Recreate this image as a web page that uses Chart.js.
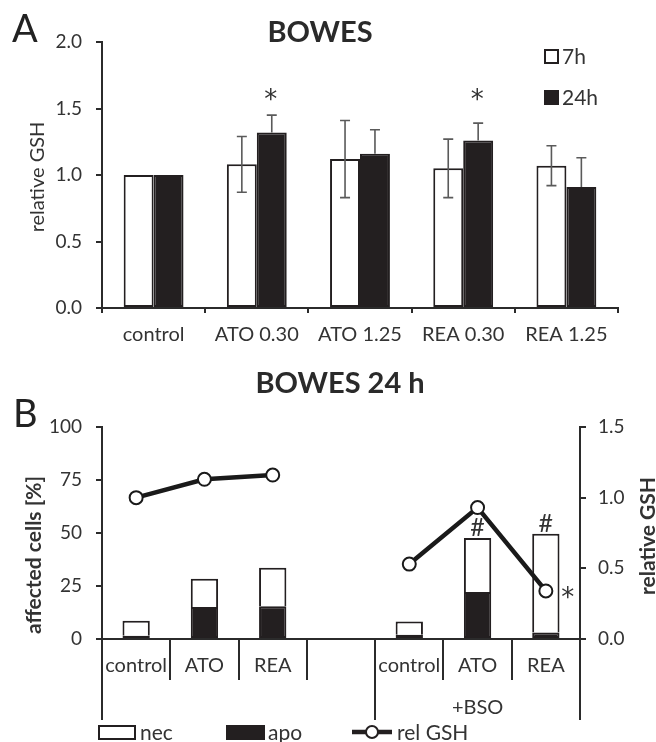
<!DOCTYPE html>
<html>
<head>
<meta charset="utf-8">
<script src="https://cdn.jsdelivr.net/npm/chart.js@4.4.0/dist/chart.umd.min.js"></script>
<style>
  html, body { margin:0; padding:0; background:#fff; }
  #wrap { position:relative; width:656px; height:742px; }
  canvas { position:absolute; left:0; }
  #chartA { top:0; }
  #chartB { top:360px; }
</style>
</head>
<body>
<div id="wrap">
  <canvas id="chartA" width="656" height="370"></canvas>
  <canvas id="chartB" width="656" height="382"></canvas>
</div>
<script>
// ---- data: panel A (relative GSH, 7h vs 24h) ----
const groupsA   = ["control", "ATO 0.30", "ATO 1.25", "REA 0.30", "REA 1.25"];
const gsh7h     = [1.00, 1.08, 1.12, 1.05, 1.07];
const gsh7hErr  = [0, 0.21, 0.29, 0.22, 0.15];
const gsh24h    = [1.00, 1.32, 1.16, 1.26, 0.91];
const gsh24hErr = [0, 0.13, 0.18, 0.13, 0.22];
const starsA    = ["", "*", "", "*", ""];   // marks over the 24h bars

// ---- data: panel B (BOWES 24 h, affected cells + rel GSH) ----
const groupsB  = ["control", "ATO", "REA", "", "control", "ATO", "REA"];
const apoB     = [1.5, 15.1, 15.4, null, 2.0, 22.2, 3.1];
const necB     = [7.1, 13.3, 18.2, null, 6.2, 25.4, 46.6];
const relGshB  = [1.00, 1.13, 1.16, null, 0.53, 0.93, 0.34];
const hashB    = ["", "", "", "", "", "#", "#"];  // over the stacks
const starGshB = ["", "", "", "", "", "", "*"];   // beside the GSH points

const FONT = "Lato, 'Open Sans', sans-serif";
const STAR = "26px 'DejaVu Sans', sans-serif";
const INK = "#231f20";
const TXT = "#333333";
const AX = "#2b2b2b";

function txt(ctx, s, x, y, font, align, color, rot, base) {
  ctx.save();
  ctx.font = font;
  ctx.fillStyle = color || TXT;
  ctx.textAlign = align || "center";
  ctx.textBaseline = base || "middle";
  ctx.translate(x, y);
  if (rot) ctx.rotate(rot);
  ctx.fillText(s, 0, 0);
  ctx.restore();
}
// asterisk centred on (x, y): glyph sits high in the em box
function star(ctx, s, x, y) {
  txt(ctx, s, x, y + 15, STAR, "center", TXT, 0, "alphabetic");
}

// error bars drawn from the dataset's own errors array
const errorBars = {
  id: "errorBars",
  afterDatasetsDraw(chart) {
    const ctx = chart.ctx, y = chart.scales.y;
    chart.data.datasets.forEach((ds, i) => {
      if (!ds.errors) return;
      chart.getDatasetMeta(i).data.forEach((bar, j) => {
        const e = ds.errors[j];
        if (!e) return;
        const v = ds.data[j];
        const top = y.getPixelForValue(v + e);
        const bot = y.getPixelForValue(ds.upperOnly ? v : v - e);
        ctx.save();
        ctx.strokeStyle = "#5a5a5a";
        ctx.lineWidth = 1.6;
        ctx.beginPath();
        ctx.moveTo(bar.x, top); ctx.lineTo(bar.x, bot);
        ctx.moveTo(bar.x - 5, top); ctx.lineTo(bar.x + 5, top);
        if (!ds.upperOnly) { ctx.moveTo(bar.x - 5, bot); ctx.lineTo(bar.x + 5, bot); }
        ctx.stroke();
        ctx.restore();
      });
    });
  }
};

const decorA = {
  id: "decorA",
  afterDraw(chart) {
    const ctx = chart.ctx, y = chart.scales.y;
    txt(ctx, "A", 12, 30, "38px " + FONT, "left", "#222");
    txt(ctx, "BOWES", 320, 33, "bold 29px " + FONT, "center", "#2a2a2a");
    txt(ctx, "relative GSH", 38, 177, "20px " + FONT, "center", TXT, -Math.PI / 2);
    // legend
    const items = chart.data.datasets;
    [57, 98].forEach((cy, k) => {
      const ds = items[k];
      ctx.save();
      ctx.fillStyle = ds.backgroundColor;
      ctx.strokeStyle = INK;
      ctx.lineWidth = 2;
      ctx.fillRect(545, cy - 7, 13, 13);
      ctx.strokeRect(545, cy - 7, 13, 13);
      ctx.restore();
      txt(ctx, ds.label, 562, cy, "21px " + FONT, "left", TXT);
    });
    // significance stars over the 24h bars
    const meta = chart.getDatasetMeta(1);
    starsA.forEach((s, j) => {
      if (!s) return;
      star(ctx, s, meta.data[j].x - 1, y.getPixelForValue(1.62));
    });
  }
};

new Chart(document.getElementById("chartA"), {
  type: "bar",
  data: {
    labels: groupsA,
    datasets: [
      { label: "7h", data: gsh7h, errors: gsh7hErr, backgroundColor: "#ffffff",
        borderColor: INK, borderWidth: 2, borderSkipped: false },
      { label: "24h", data: gsh24h, errors: gsh24hErr, upperOnly: true, backgroundColor: INK,
        borderColor: INK, borderWidth: 2, borderSkipped: false }
    ]
  },
  options: {
    responsive: false,
    animation: false,
    categoryPercentage: 0.58,
    barPercentage: 1.0,
    layout: { padding: { top: 42, right: 38, left: 0, bottom: 0 } },
    plugins: { legend: { display: false }, tooltip: { enabled: false } },
    scales: {
      x: {
        grid: { offset: true, drawOnChartArea: false, tickLength: 5, color: AX, lineWidth: 2 },
        border: { display: true, color: AX, width: 2 },
        ticks: { padding: 10, color: TXT, font: { family: FONT, size: 20 } },
        afterFit(s) { s.height = 62; }
      },
      y: {
        min: 0, max: 2,
        grid: { drawOnChartArea: false, tickLength: 6, color: AX, lineWidth: 2 },
        border: { display: true, color: AX, width: 2 },
        ticks: { stepSize: 0.5, padding: 14, color: TXT, font: { family: FONT, size: 19 },
                 callback: v => v.toFixed(1) },
        afterFit(s) { s.width = 102; }
      }
    }
  },
  plugins: [errorBars, decorA]
});

const decorB = {
  id: "decorB",
  afterDraw(chart) {
    const ctx = chart.ctx, x = chart.scales.x, y = chart.scales.y;
    const ca = chart.chartArea;
    txt(ctx, "B", 13, 55, "38px " + FONT, "left", "#222");
    txt(ctx, "BOWES 24 h", 340, 24, "bold 29px " + FONT, "center", "#2a2a2a");
    txt(ctx, "affected cells [%]", 34, 195, "bold 21px " + FONT, "center", TXT, -Math.PI / 2);
    txt(ctx, "relative GSH", 648, 176, "bold 21px " + FONT, "center", TXT, -Math.PI / 2);
    // long group dividers below the axis
    const step = (ca.right - ca.left) / groupsB.length;
    ctx.save();
    ctx.strokeStyle = AX;
    ctx.lineWidth = 2;
    ctx.beginPath();
    [0, 4, 7].forEach(k => {
      const px = Math.round(ca.left + k * step);
      ctx.moveTo(px, ca.bottom);
      ctx.lineTo(px, ca.bottom + 81);
    });
    ctx.stroke();
    ctx.restore();
    txt(ctx, "+BSO", x.getPixelForValue(5), 348, "20px " + FONT, "center", TXT);
    // marks
    const metaNec = chart.getDatasetMeta(2);
    hashB.forEach((s, j) => {
      if (!s) return;
      const top = y.getPixelForValue(apoB[j] + necB[j]);
      txt(ctx, s, metaNec.data[j].x, top - 10, "25px " + FONT, "center", TXT);
    });
    const metaLine = chart.getDatasetMeta(0);
    starGshB.forEach((s, j) => {
      if (!s) return;
      const p = metaLine.data[j];
      star(ctx, s, p.x + 22, p.y);
    });
    // legend
    const ly = 372;
    ctx.save();
    ctx.lineWidth = 2;
    ctx.strokeStyle = INK;
    ctx.fillStyle = "#fff";
    ctx.fillRect(99, ly - 6, 36, 13); ctx.strokeRect(99, ly - 6, 36, 13);
    ctx.fillStyle = INK;
    ctx.fillRect(226, ly - 7, 39, 15);
    ctx.lineWidth = 4.5;
    ctx.beginPath(); ctx.moveTo(352, ly); ctx.lineTo(392, ly); ctx.stroke();
    ctx.lineWidth = 2;
    ctx.fillStyle = "#fff";
    ctx.beginPath(); ctx.arc(372, ly, 6, 0, Math.PI * 2); ctx.fill(); ctx.stroke();
    ctx.restore();
    const ds = chart.data.datasets;
    txt(ctx, ds[2].label, 140, ly + 1, "21px " + FONT, "left", TXT);
    txt(ctx, ds[1].label, 268, ly + 1, "21px " + FONT, "left", TXT);
    txt(ctx, ds[0].label, 397, ly + 1, "21px " + FONT, "left", TXT);
  }
};

new Chart(document.getElementById("chartB"), {
  type: "bar",
  data: {
    labels: groupsB,
    datasets: [
      { type: "line", label: "rel GSH", data: relGshB, yAxisID: "y2", order: 0,
        borderColor: "#1a1a1a", borderWidth: 4.5, pointRadius: 6.5, pointBorderWidth: 2,
        pointBackgroundColor: "#fff", pointBorderColor: "#1a1a1a", spanGaps: false },
      { label: "apo", data: apoB, order: 1, backgroundColor: INK, borderColor: INK,
        borderWidth: 2, borderSkipped: false },
      { label: "nec", data: necB, order: 1, backgroundColor: "#fff", borderColor: INK,
        borderWidth: 2, borderSkipped: "start" }
    ]
  },
  options: {
    responsive: false,
    animation: false,
    categoryPercentage: 0.4,
    barPercentage: 1.0,
    layout: { padding: { top: 67, right: 0, left: 0, bottom: 0 } },
    plugins: { legend: { display: false }, tooltip: { enabled: false } },
    scales: {
      x: {
        stacked: true,
        grid: { offset: true, drawOnChartArea: false, tickLength: 41, color: AX, lineWidth: 2 },
        border: { display: true, color: AX, width: 2 },
        ticks: { padding: -26, color: TXT, font: { family: FONT, size: 20 } },
        afterFit(s) { s.height = 103; }
      },
      y: {
        stacked: true, min: 0, max: 100,
        grid: { drawOnChartArea: false, tickLength: 6, color: AX, lineWidth: 2 },
        border: { display: true, color: AX, width: 2 },
        ticks: { stepSize: 25, padding: 14, color: TXT, font: { family: FONT, size: 19 } },
        afterFit(s) { s.width = 102; }
      },
      y2: {
        position: "right", min: 0, max: 1.5,
        grid: { drawOnChartArea: false, tickLength: 6, color: AX, lineWidth: 2 },
        border: { display: true, color: AX, width: 2 },
        ticks: { stepSize: 0.5, padding: 12, color: TXT, font: { family: FONT, size: 19 },
                 callback: v => v.toFixed(1) },
        afterFit(s) { s.width = 76; }
      }
    }
  },
  plugins: [decorB]
});
</script>
</body>
</html>
